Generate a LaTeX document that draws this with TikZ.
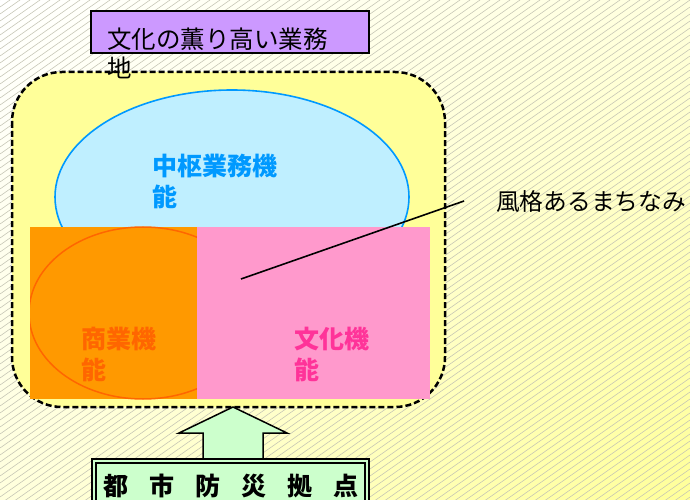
\documentclass[tikz,border=0pt]{standalone}
\usepackage{fontspec}
\usetikzlibrary{shadings}
\newfontfamily\jp{Noto Sans CJK JP}
\definecolor{bgyel}{HTML}{FFFF99}
\definecolor{bgmid}{HTML}{FFFFDD}
\definecolor{areafill}{HTML}{FFFF99}
\definecolor{cyanfill}{HTML}{BFEFFF}
\definecolor{cyanline}{HTML}{0099FF}
\definecolor{purplefill}{HTML}{CC99FF}
\definecolor{orangefill}{HTML}{FF9900}
\definecolor{orangeline}{HTML}{FF6600}
\definecolor{pinkfill}{HTML}{FF99CC}
\definecolor{pinktext}{HTML}{FF3399}
\definecolor{greenfill}{HTML}{CCFFCC}
\definecolor{hatchcol}{HTML}{C4C4B4}
\tikzset{
  hatch/.style={draw=hatchcol, line width=0.55bp},
  areabox/.style={fill=areafill, draw=black, line width=2.5bp, dash pattern=on 6bp off 3bp, rounded corners=50bp},
  titlebox/.style={fill=purplefill, draw=black, line width=1.5bp},
  labeltext/.style={inner sep=0pt, align=left, anchor=north west},
  greenarrow/.style={fill=greenfill, draw=black, line width=1.5bp, line join=miter},
}
\begin{document}
\begin{tikzpicture}[x=1bp, y=-1bp]
\useasboundingbox (0,0) rectangle (690,500);
% background
\shade[upper left=white, upper right=bgmid, lower left=bgmid, lower right=bgyel] (0,0) rectangle (690,500);
\begin{scope}
  \clip (0,0) rectangle (690,500);
  \foreach \c in {0,7,...,994} { \draw[hatch] (0,\c) -- (690,\c-483); }
\end{scope}
% area
\draw[areabox] (12,72) rectangle (445,407);
% central ellipse
\draw[fill=cyanfill, draw=cyanline, line width=1.6bp] (232,197) ellipse [x radius=177bp, y radius=107bp];
\node[labeltext, text=cyanline, font=\jp\bfseries\fontsize{25bp}{31bp}\selectfont] (central) at (152,154) {中枢業務機\\能};
% commerce
\fill[orangefill] (30,227) rectangle (197,399);
\begin{scope}
  \clip (30,227) rectangle (197,399);
  \draw[orangeline, line width=1.5bp] (143,313) ellipse [x radius=114bp, y radius=86bp];
\end{scope}
% culture
\fill[pinkfill] (197,227) rectangle (430,399);
\node[labeltext, text=orangeline, font=\jp\bfseries\fontsize{25bp}{31bp}\selectfont] (commerce) at (81,327) {商業機\\能};
\node[labeltext, text=pinktext, font=\jp\bfseries\fontsize{25bp}{31bp}\selectfont] (culture) at (294,327) {文化機\\能};
% leader line
\coordinate (lineA) at (241,279);
\coordinate (lineB) at (464,201);
\draw[line width=1.6bp] (lineA) -- (lineB);
\node[inner sep=0pt, anchor=west, font=\jp\fontsize{23.75bp}{28bp}\selectfont] (streets) at (496,201) {風格あるまちなみ};
% title box
\draw[titlebox] (91,11) rectangle (369,53);
\node[labeltext, font=\jp\fontsize{24.5bp}{28.5bp}\selectfont] (title) at (107,28) {文化の薫り高い業務\\地};
% arrow
\draw[greenarrow] (233,407) -- (287,433) -- (263,433) -- (263,462) -- (203,462) -- (203,433) -- (179,433) -- cycle;
% bottom box
\draw[fill=greenfill, draw=black, line width=2bp] (92,459) rectangle (369,515);
\draw[draw=black, line width=1.2bp] (96,463) rectangle (365,515);
\node[inner sep=0pt, font=\jp\bfseries\fontsize{25bp}{30bp}\selectfont] (base) at (231,486) {都\hspace{21bp}市\hspace{21bp}防\hspace{21bp}災\hspace{21bp}拠\hspace{21bp}点};
\end{tikzpicture}
\end{document}
